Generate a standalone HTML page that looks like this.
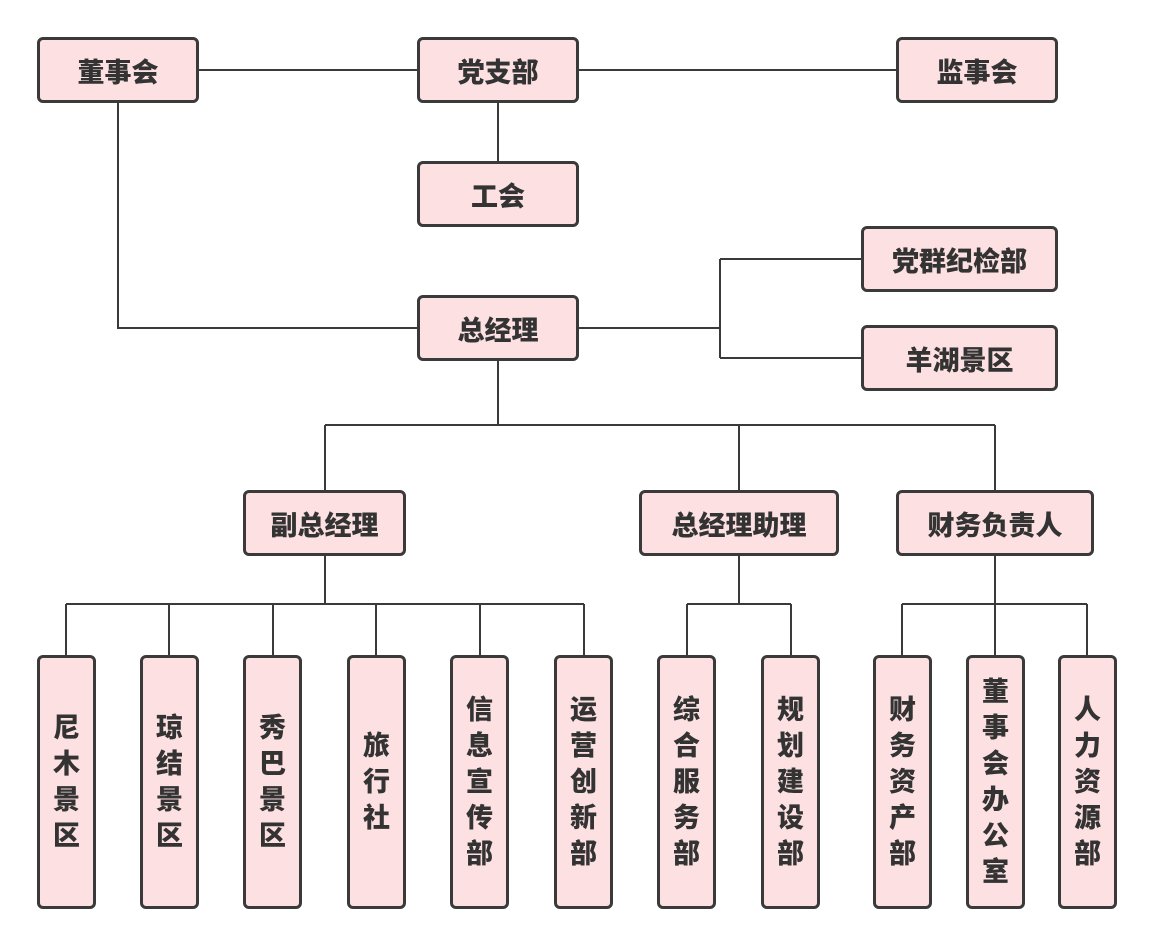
<!DOCTYPE html>
<html><head><meta charset="utf-8"><style>
body{margin:0;width:1152px;height:945px;background:#fff;position:relative;overflow:hidden;font-family:"Liberation Sans","Noto Sans CJK SC",sans-serif}
.b{position:absolute;box-sizing:border-box;border:3px solid #3a3a3a;border-radius:6px;background:#fde0e2;display:flex;align-items:center;justify-content:center;font-weight:900;font-size:27px;color:#333;text-align:center}
.v{line-height:36px;font-size:27px}
svg{position:absolute;left:0;top:0}
</style></head><body>
<svg width="1152" height="945" stroke="#3a3a3a" stroke-width="2" fill="none">
<path d="M198 70H418M578 70H897M498 102V162M118 102V328H418M578 328H720M720 259V358M720 259H862M720 358H862"/>
<path d="M498 360V425M325 425H995M325 425V491M739 425V491M995 425V491"/>
<path d="M325 555V604M66 604H584M66 604V656M169 604V656M273 604V656M376 604V656M480 604V656M584 604V656"/>
<path d="M739 555V604M687 604H791M687 604V656M791 604V656"/>
<path d="M995 555V604M902 604H1087M902 604V656M995 604V656M1087 604V656"/>
</svg>
<div class="b" style="left:37px;top:37px;width:162px;height:66px">董事会</div>
<div class="b" style="left:417px;top:37px;width:162px;height:66px">党支部</div>
<div class="b" style="left:896px;top:37px;width:162px;height:66px">监事会</div>
<div class="b" style="left:417px;top:161px;width:162px;height:66px">工会</div>
<div class="b" style="left:861px;top:226px;width:197px;height:66px">党群纪检部</div>
<div class="b" style="left:861px;top:325px;width:197px;height:66px">羊湖景区</div>
<div class="b" style="left:417px;top:295px;width:162px;height:66px">总经理</div>
<div class="b" style="left:243px;top:490px;width:163px;height:66px">副总经理</div>
<div class="b" style="left:639px;top:490px;width:200px;height:66px">总经理助理</div>
<div class="b" style="left:896px;top:490px;width:198px;height:66px">财务负责人</div>
<div class="b v" style="left:37px;top:655px;width:59px;height:254px">尼<br>木<br>景<br>区</div>
<div class="b v" style="left:140px;top:655px;width:59px;height:254px">琼<br>结<br>景<br>区</div>
<div class="b v" style="left:243px;top:655px;width:59px;height:254px">秀<br>巴<br>景<br>区</div>
<div class="b v" style="left:347px;top:655px;width:59px;height:254px">旅<br>行<br>社</div>
<div class="b v" style="left:450px;top:655px;width:59px;height:254px">信<br>息<br>宣<br>传<br>部</div>
<div class="b v" style="left:554px;top:655px;width:59px;height:254px">运<br>营<br>创<br>新<br>部</div>
<div class="b v" style="left:657px;top:655px;width:59px;height:254px">综<br>合<br>服<br>务<br>部</div>
<div class="b v" style="left:761px;top:655px;width:59px;height:254px">规<br>划<br>建<br>设<br>部</div>
<div class="b v" style="left:873px;top:655px;width:59px;height:254px">财<br>务<br>资<br>产<br>部</div>
<div class="b v" style="left:966px;top:655px;width:59px;height:254px">董<br>事<br>会<br>办<br>公<br>室</div>
<div class="b v" style="left:1058px;top:655px;width:59px;height:254px">人<br>力<br>资<br>源<br>部</div>
</body></html>
